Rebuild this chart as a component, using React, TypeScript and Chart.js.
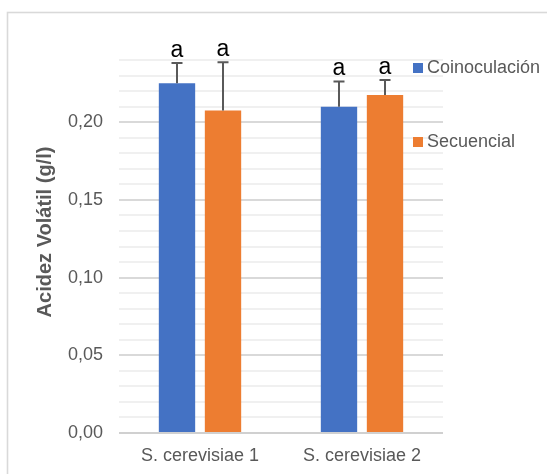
import React, { useEffect, useRef } from "react";
import { Chart, registerables } from "chart.js";

Chart.register(...registerables);

const categories = ["S. cerevisiae 1", "S. cerevisiae 2"];
const seriesNames = ["Coinoculación", "Secuencial"];
const seriesColors = ["#4472C4", "#ED7D31"];
const coinoculacion = [0.225, 0.21];
const secuencial = [0.2075, 0.2175];
const errCoinoculacion = [0.013, 0.0162];
const errSecuencial = [0.031, 0.0097];
const lettersCoinoculacion = ["a", "a"];
const lettersSecuencial = ["a", "a"];
const yMajorTicks = [0, 0.05, 0.1, 0.15, 0.2];
const yTickLabels = ["0,00", "0,05", "0,10", "0,15", "0,20"];
const yTitle = "Acidez Volátil (g/l)";

const allErrors = [errCoinoculacion, errSecuencial];
const allLetters = [lettersCoinoculacion, lettersSecuencial];
const FONT = "'Liberation Sans', Arial, sans-serif";
const GRAY = "#595959";

const majorIndex = (v: number) => yMajorTicks.findIndex((m) => Math.abs(m - v) < 1e-6);

const decorPlugin = {
  id: "decor",
  beforeDraw(chart: any) {
    const ctx = chart.ctx;
    ctx.save();
    ctx.fillStyle = "#ffffff";
    ctx.fillRect(0, 0, chart.width, chart.height);
    ctx.strokeStyle = "#d9d9d9";
    ctx.lineWidth = 1.6;
    ctx.strokeRect(7.5, 12.5, 700, 700);
    ctx.restore();
  },
  afterDatasetsDraw(chart: any) {
    const ctx = chart.ctx;
    const yScale = chart.scales.y;
    ctx.save();
    chart.data.datasets.forEach((ds: any, di: number) => {
      const meta = chart.getDatasetMeta(di);
      meta.data.forEach((bar: any, i: number) => {
        const v = ds.data[i] as number;
        const topY = yScale.getPixelForValue(v + allErrors[di][i]);
        ctx.strokeStyle = GRAY;
        ctx.lineWidth = 2;
        ctx.beginPath();
        ctx.moveTo(bar.x, bar.y);
        ctx.lineTo(bar.x, topY);
        ctx.moveTo(bar.x - 5.5, topY);
        ctx.lineTo(bar.x + 5.5, topY);
        ctx.stroke();
        ctx.fillStyle = "#000000";
        ctx.font = `23px ${FONT}`;
        ctx.textAlign = "center";
        ctx.textBaseline = "alphabetic";
        ctx.fillText(allLetters[di][i], bar.x, topY - 6);
      });
    });
    ctx.restore();
  },
  afterDraw(chart: any) {
    const ctx = chart.ctx;
    const area = chart.chartArea;
    ctx.save();
    const offsets = [8, 82];
    ctx.font = `18px ${FONT}`;
    ctx.textAlign = "left";
    ctx.textBaseline = "middle";
    seriesNames.forEach((name, i) => {
      const cy = area.top + offsets[i];
      const sx = area.right - 30;
      ctx.fillStyle = seriesColors[i];
      ctx.fillRect(sx, cy - 5, 10, 10);
      ctx.fillStyle = GRAY;
      ctx.fillText(name, sx + 14, cy);
    });
    ctx.translate(45, 232);
    ctx.rotate(-Math.PI / 2);
    ctx.font = `bold 20px ${FONT}`;
    ctx.textAlign = "center";
    ctx.textBaseline = "middle";
    ctx.fillStyle = GRAY;
    ctx.fillText(yTitle, 0, 0);
    ctx.restore();
  },
};

export default function App() {
  const canvasRef = useRef<HTMLCanvasElement | null>(null);

  useEffect(() => {
    if (!canvasRef.current) return;
    const chart = new Chart(canvasRef.current, {
      type: "bar",
      data: {
        labels: categories,
        datasets: [
          {
            label: seriesNames[0],
            data: coinoculacion,
            backgroundColor: seriesColors[0],
            categoryPercentage: 0.568,
            barPercentage: 0.79,
          },
          {
            label: seriesNames[1],
            data: secuencial,
            backgroundColor: seriesColors[1],
            categoryPercentage: 0.568,
            barPercentage: 0.79,
          },
        ],
      },
      options: {
        responsive: false,
        animation: false,
        layout: { padding: { left: 0, right: 104, top: 60, bottom: 0 } },
        plugins: {
          legend: { display: false },
          tooltip: { enabled: false },
          title: { display: false },
        },
        scales: {
          x: {
            grid: { display: false, drawTicks: false },
            border: { display: false },
            ticks: {
              color: GRAY,
              font: { family: FONT, size: 18 },
              padding: 12,
            },
            afterFit: (s: any) => {
              s.height = 41;
            },
          },
          y: {
            min: 0,
            max: 0.24,
            border: { display: false },
            grid: {
              drawTicks: false,
              color: (c: any) => {
                const v = c.tick ? c.tick.value : 0;
                if (Math.abs(v) < 1e-9) return "#d0d0d0";
                return majorIndex(v) >= 0 ? "#d9d9d9" : "#f0f0f0";
              },
              lineWidth: 2,
            },
            ticks: {
              stepSize: 0.01,
              autoSkip: false,
              color: GRAY,
              font: { family: FONT, size: 18 },
              padding: 16,
              callback: (v: any) => {
                const idx = majorIndex(Number(v));
                return idx >= 0 ? yTickLabels[idx] : "";
              },
            },
            afterFit: (s: any) => {
              s.width = 119;
            },
          },
        },
      },
      plugins: [decorPlugin],
    });
    return () => chart.destroy();
  }, []);

  return (
    <div style={{ position: "absolute", left: 0, top: 0, width: 547, height: 474 }}>
      <canvas ref={canvasRef} width={547} height={474} style={{ display: "block" }} />
    </div>
  );
}
